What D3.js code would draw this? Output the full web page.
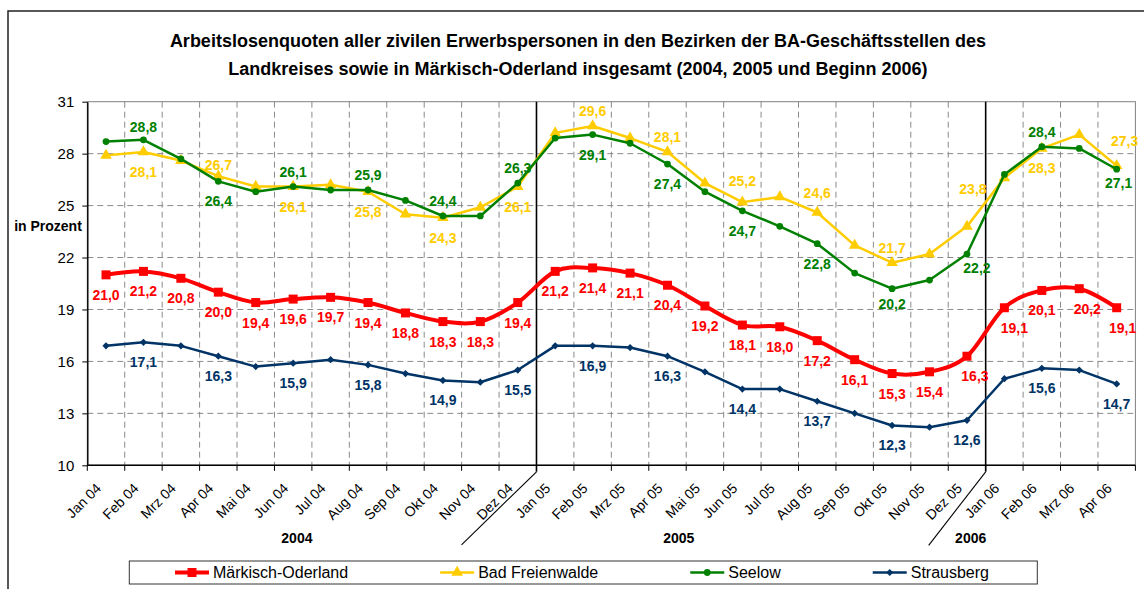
<!DOCTYPE html>
<html><head><meta charset="utf-8">
<script src="https://cdn.jsdelivr.net/npm/d3@7"></script>
<style>
html,body{margin:0;padding:0;background:#fff;}
svg{display:block;font-family:"Liberation Sans",Arial,Helvetica,sans-serif;}
</style></head>
<body>
<svg id="chart" width="1144" height="589"></svg>
<script>
// ---------- data ----------
const months = ["Jan 04","Feb 04","Mrz 04","Apr 04","Mai 04","Jun 04","Jul 04","Aug 04","Sep 04","Okt 04","Nov 04","Dez 04",
                "Jan 05","Feb 05","Mrz 05","Apr 05","Mai 05","Jun 05","Jul 05","Aug 05","Sep 05","Okt 05","Nov 05","Dez 05",
                "Jan 06","Feb 06","Mrz 06","Apr 06"];
const maerkischOderland = [21.0,21.2,20.8,20.0,19.4,19.6,19.7,19.4,18.8,18.3,18.3,19.4,21.2,21.4,21.1,20.4,19.2,18.1,18.0,17.2,16.1,15.3,15.4,16.3,19.1,20.1,20.2,19.1];
const badFreienwalde    = [27.9,28.1,27.6,26.7,26.1,26.1,26.2,25.8,24.5,24.3,24.9,26.1,29.2,29.6,28.9,28.1,26.3,25.2,25.5,24.6,22.7,21.7,22.2,23.8,26.6,28.3,29.1,27.3];
const seelow            = [28.7,28.8,27.7,26.4,25.8,26.1,25.9,25.9,25.3,24.4,24.4,26.3,28.9,29.1,28.6,27.4,25.8,24.7,23.8,22.8,21.1,20.2,20.7,22.2,26.8,28.4,28.3,27.1];
const strausberg        = [16.9,17.1,16.9,16.3,15.7,15.9,16.1,15.8,15.3,14.9,14.8,15.5,16.9,16.9,16.8,16.3,15.4,14.4,14.4,13.7,13.0,12.3,12.2,12.6,15.0,15.6,15.5,14.7];
// which points carry a value label: "a" = above, "b" = below, "" = none
const labelsMO = ["b","b","b","b","b","b","b","b","b","b","b","b","b","b","b","b","b","b","b","b","b","b","b","b","b","b","b","b"];
const labelsBF = ["","b","","a","","b","","b","","b","","b","","a","","a","","a","","a","","a","","a","","b","","a"];
const labelsSE = ["","a","","b","","a","","a","","a","","a","","b","","b","","b","","b","","b","","b","","a","","b"];
const labelsST = ["","b","","b","","b","","b","","b","","b","","b","","b","","b","","b","","b","","b","","b","","b"];
const yTickValues = [10,13,16,19,22,25,28,31];
const years = ["2004","2005","2006"];
const titleLines = ["Arbeitslosenquoten aller zivilen Erwerbspersonen in den Bezirken der BA-Geschäftsstellen des",
                    "Landkreises sowie in Märkisch-Oderland insgesamt (2004, 2005 und Beginn 2006)"];
const yAxisTitle = "in Prozent";

// ---------- layout ----------
const svg = d3.select("#chart");
const L = 87.3, R = 1135.4, T = 101.7, B = 465.3;
const x = d3.scaleBand().domain(months).range([L, R]).padding(0);
const y = d3.scaleLinear().domain([10, 31]).range([B, T]);
const bw = x.bandwidth();
const cx = m => x(m) + bw / 2;
const boundaries = months.map(m => x(m)).concat([R]);
const fmt = v => d3.format(".1f")(v).replace(".", ",");
// manual label nudges (dx, dy) as placed in the original, keyed "series|month"
const labelNudge = {
  "Bad Freienwalde|Dez 05":[6,-22], "Bad Freienwalde|Apr 06":[8,-10], "Bad Freienwalde|Jun 05":[0,-6],
  "Bad Freienwalde|Aug 05":[0,-5], "Bad Freienwalde|Apr 04":[0,4],
  "Seelow|Dez 05":[10,-6], "Seelow|Apr 06":[2,-6], "Seelow|Okt 05":[0,-5], "Seelow|Feb 04":[0,2],
  "Märkisch-Oderland|Jan 06":[10,0], "Märkisch-Oderland|Dez 05":[8,0], "Märkisch-Oderland|Mrz 06":[8,0],
  "Märkisch-Oderland|Apr 06":[6,0]
};

const series = [
  {name:"Märkisch-Oderland", values:maerkischOderland, labels:labelsMO, color:"#FF0000", width:4, curve:d3.curveCardinal.tension(0),
   symbol:d3.symbolSquare, size:81, rot:0},
  {name:"Bad Freienwalde", values:badFreienwalde, labels:labelsBF, color:"#FFCC00", width:2.5, curve:d3.curveLinear,
   symbol:d3.symbolTriangle, size:58, rot:0},
  {name:"Seelow", values:seelow, labels:labelsSE, color:"#008000", width:2.5, curve:d3.curveLinear,
   symbol:d3.symbolCircle, size:36, rot:0},
  {name:"Strausberg", values:strausberg, labels:labelsST, color:"#003366", width:2.5, curve:d3.curveLinear,
   symbol:d3.symbolSquare, size:26, rot:45}
];

// outer chart border
svg.append("rect").attr("x",8).attr("y",11).attr("width",1160).attr("height",620)
  .attr("fill","#fff").attr("stroke","#222").attr("stroke-width",1.5);

// title
svg.append("g").selectAll("text").data(titleLines).join("text")
  .attr("x", 578).attr("y", (d,i) => 47 + i*28)
  .attr("text-anchor","middle").attr("font-weight","bold").attr("font-size",18).attr("fill","#000")
  .text(d => d);

// plot background + border
svg.append("rect").attr("x",L).attr("y",T).attr("width",R-L).attr("height",B-T)
  .attr("fill","#fff").attr("stroke","#808080").attr("stroke-width",1);

// horizontal gridlines
svg.append("g").selectAll("line").data(yTickValues.filter(v => v > 10 && v < 31)).join("line")
  .attr("x1",L).attr("x2",R).attr("y1",d=>y(d)).attr("y2",d=>y(d))
  .attr("stroke","#8a8a8a").attr("stroke-width",1).attr("stroke-dasharray","6,4");

// vertical gridlines at category boundaries
svg.append("g").selectAll("line").data(boundaries.slice(1, -1).filter((b,i) => (i+1) % 12 !== 0)).join("line")
  .attr("x1",d=>d).attr("x2",d=>d).attr("y1",T).attr("y2",B)
  .attr("stroke","#8a8a8a").attr("stroke-width",1).attr("stroke-dasharray","6,4");

// year separators (solid black verticals)
const yearStarts = [12, 24].map(i => boundaries[i]);
svg.append("g").selectAll("line").data(yearStarts).join("line")
  .attr("x1",d=>d).attr("x2",d=>d).attr("y1",T).attr("y2",B+6.5)
  .attr("stroke","#000").attr("stroke-width",1.6);
// diagonal separators under axis
const diag = [{x0:boundaries[12], dx:-75, dy:73}, {x0:boundaries[24], dx:-57, dy:73.5}];
svg.append("g").selectAll("line").data(diag).join("line")
  .attr("x1",d=>d.x0).attr("y1",B+6.5).attr("x2",d=>d.x0+d.dx).attr("y2",d=>B+6.5+d.dy)
  .attr("stroke","#000").attr("stroke-width",1.1);

// y axis
const yAxis = d3.axisLeft(y).tickValues(yTickValues).tickSize(5).tickSizeOuter(0).tickPadding(8);
const gy = svg.append("g").attr("transform",`translate(${L},0)`).call(yAxis);
gy.select(".domain").attr("stroke","#000").attr("stroke-width",1.4);
gy.selectAll(".tick line").attr("stroke","#000");
gy.selectAll(".tick text").attr("font-size",15).attr("fill","#000")
  .attr("font-family",'"Liberation Sans",Arial,sans-serif');

svg.append("text").attr("x",48).attr("y",230.5).attr("text-anchor","middle")
  .attr("font-weight","bold").attr("font-size",14).text(yAxisTitle);

// x axis line + ticks
svg.append("line").attr("x1",L).attr("x2",R).attr("y1",B).attr("y2",B).attr("stroke","#000").attr("stroke-width",1.4);
svg.append("g").selectAll("line").data(boundaries).join("line")
  .attr("x1",d=>d).attr("x2",d=>d).attr("y1",B).attr("y2",B+5.5).attr("stroke","#000").attr("stroke-width",1);
svg.append("g").selectAll("text").data(months).join("text")
  .attr("transform", m => `translate(${cx(m)-4},${B+24}) rotate(-45)`)
  .attr("text-anchor","end").attr("font-size",14).attr("fill","#000").text(m => m);

// year labels
const yearPos = [5.6, 15.8, 23.6];
svg.append("g").selectAll("text").data(years).join("text")
  .attr("x",(d,i)=> L + yearPos[i]*bw).attr("y",542.7).attr("text-anchor","middle")
  .attr("font-weight","bold").attr("font-size",14).text(d=>d);

// series lines
const lineGen = s => d3.line().x((d,i)=>cx(months[i])).y(d=>y(d)).curve(s.curve);
const gSeries = svg.append("g");
series.forEach(s => {
  const g = gSeries.append("g");
  g.append("path").datum(s.values).attr("d", lineGen(s)).attr("fill","none")
    .attr("stroke", s.color).attr("stroke-width", s.width).attr("stroke-linejoin","round");
  g.selectAll("path.m").data(s.values).join("path").attr("class","m")
    .attr("transform",(d,i)=>`translate(${cx(months[i])},${y(d)}) rotate(${s.rot})`)
    .attr("d", d3.symbol().type(s.symbol).size(s.size)).attr("fill", s.color);
});

// value labels
const gLabels = svg.append("g");
series.forEach(s => {
  const pts = s.values.map((v,i)=>({v, i, side:s.labels[i]})).filter(p => p.side);
  const nud = p => labelNudge[s.name + "|" + months[p.i]] || [0,0];
  gLabels.selectAll(null).data(pts).join("text")
    .attr("x", p => cx(months[p.i]) + nud(p)[0])
    .attr("y", p => y(p.v) + (p.side === "a" ? -10 : 25) + nud(p)[1])
    .attr("text-anchor","middle").attr("font-weight","bold").attr("font-size",14)
    .attr("fill", s.color).text(p => fmt(p.v));
});

// legend
const lg = svg.append("g");
lg.append("rect").attr("x",129.3).attr("y",561).attr("width",908).attr("height",23)
  .attr("fill","#fff").attr("stroke","#333").attr("stroke-width",1);
let lx = 175;
series.forEach(s => {
  const g = lg.append("g");
  g.append("line").attr("x1",lx).attr("x2",lx+34).attr("y1",572.5).attr("y2",572.5)
    .attr("stroke",s.color).attr("stroke-width",s.width);
  g.append("path").attr("transform",`translate(${lx+17},572.5) rotate(${s.rot})`)
    .attr("d", d3.symbol().type(s.symbol).size(s.size)).attr("fill", s.color);
  const t = g.append("text").attr("x",lx+38).attr("y",578.3).attr("font-size",16).attr("fill","#000").text(s.name);
  lx = lx + 38 + t.node().getComputedTextLength() + 92;
});
</script>
</body></html>
